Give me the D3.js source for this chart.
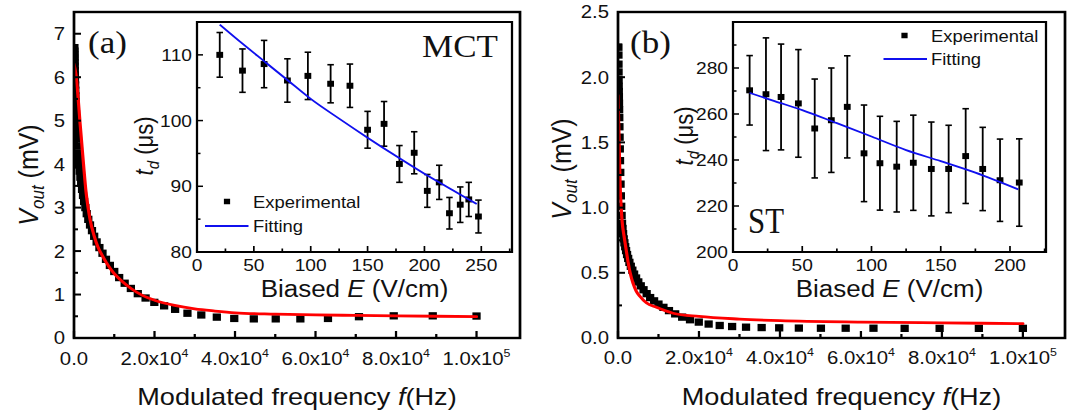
<!DOCTYPE html>
<html>
<head>
<meta charset="utf-8">
<script src="https://cdn.jsdelivr.net/npm/d3@7"></script>
<style>
  html, body { margin: 0; padding: 0; background: #fff; overflow: hidden; }
</style>
</head>
<body>
<svg id="chart"></svg>
<script>
// ---- Frequency response: modulated frequency (Hz) and output voltage (mV) ----
const freqHz = [100, 112, 126, 141, 158, 178, 200, 224, 251, 282, 316, 355, 398, 447, 501, 562, 631, 708, 794, 891,
  1000, 1122, 1259, 1413, 1585, 1778, 1995, 2239, 2512, 2818, 3162, 3548, 3981, 4467, 5012, 5623, 6310, 7079, 7943, 8913,
  10000, 11220, 12589, 14125, 15849, 17783, 19953, 22387, 25119, 28184, 31623, 35481, 39811, 44668, 50119, 56234, 63096, 70795, 79433, 89125,
  100000];
const voutMCT = [6.68, 6.6, 6.52, 6.44, 6.35, 6.26, 6.16, 6.05, 5.94, 5.82, 5.7, 5.57, 5.44, 5.3, 5.16, 5.02, 4.88, 4.73, 4.58, 4.42,
  4.26, 4.12, 3.98, 3.84, 3.7, 3.56, 3.42, 3.28, 3.14, 3.0, 2.86, 2.73, 2.6, 2.47, 2.34, 2.21, 2.08, 1.95, 1.81, 1.67,
  1.53, 1.39, 1.26, 1.14, 1.02, 0.92, 0.82, 0.74, 0.66, 0.57, 0.53, 0.48, 0.45, 0.44, 0.44, 0.44, 0.45, 0.49, 0.51, 0.51,
  0.505];
const voutST = [2.23, 2.17, 2.1, 2.04, 1.98, 1.93, 1.89, 1.85, 1.8, 1.75, 1.69, 1.62, 1.54, 1.45, 1.36, 1.27, 1.18, 1.09, 1.01, 0.94,
  0.88, 0.84, 0.8, 0.76, 0.73, 0.7, 0.67, 0.64, 0.61, 0.58, 0.55, 0.52, 0.49, 0.46, 0.43, 0.4, 0.37, 0.34, 0.31, 0.285,
  0.26, 0.235, 0.21, 0.185, 0.16, 0.14, 0.122, 0.107, 0.096, 0.088, 0.083, 0.08, 0.078, 0.076, 0.075, 0.075, 0.075, 0.074, 0.074, 0.074,
  0.074];

// fitted response curves
const fitFreqMCT = [0, 500, 1000, 1500, 2000, 2500, 3000, 3500, 4000, 5000, 6000, 7000, 8000, 9000, 10000, 12000, 14000, 17000,
  20000, 25000, 30000, 35000, 40000, 50000, 60000, 70000, 80000, 90000, 100000];
const fitVoutMCT = [6.3, 6.05, 5.55, 4.95, 4.4, 3.85, 3.35, 3.0, 2.72, 2.35, 2.08, 1.9, 1.74, 1.6, 1.48, 1.3, 1.15, 0.98,
  0.87, 0.75, 0.67, 0.62, 0.58, 0.55, 0.53, 0.52, 0.51, 0.5, 0.49];
const fitFreqST = [0, 250, 500, 750, 1000, 1500, 2000, 2500, 3000, 3700, 4500, 5400, 7000, 9500, 13600, 20000, 30000, 40000, 60000, 80000, 100000];
const fitVoutST = [1.86, 1.55, 1.2, 1.02, 0.9, 0.78, 0.68, 0.58, 0.5, 0.42, 0.36, 0.32, 0.27, 0.235, 0.19, 0.165, 0.145, 0.133, 0.122, 0.116, 0.11];

// ---- Delay time t_d (us) versus biased field E (V/cm) ----
const fieldMCT = [20, 40, 59, 79.5, 97.5, 117.5, 134.5, 150, 164.5, 178, 191, 202.5, 213, 222, 231.5, 239, 247.5];
const delayMCT = [110, 107.6, 108.6, 106.1, 106.8, 105.6, 105.3, 98.6, 99.5, 93.4, 95.1, 89.3, 90.6, 85.9, 87.2, 88.0, 85.4];
const delayErrMCT = [3.4, 3.3, 3.6, 3.3, 3.6, 2.9, 3.3, 2.8, 3.4, 2.8, 3.2, 2.5, 2.6, 2.4, 2.7, 2.6, 2.5];
const fitFieldMCT = [20, 40, 60, 80, 100, 125, 150, 175, 200, 225, 246];
const fitDelayMCT = [114.6, 111.7, 108.9, 106.1, 103.3, 100.3, 97.4, 94.6, 91.9, 89.4, 87.3];

const fieldST = [12, 23.8, 34.7, 47.2, 59, 71, 82.5, 94.6, 106.1, 118.2, 130.2, 143.2, 155.7, 168, 180.3, 192.8, 206.7];
const delayST = [270.3, 268.6, 267.4, 264.6, 253.7, 257.3, 263.1, 242.9, 238.6, 237.1, 238.8, 236.1, 236.1, 241.7, 236.1, 231.2, 230.2];
const delayErrST = [15.1, 24.5, 23, 23.4, 21.5, 22.7, 22.2, 21, 20.4, 19.7, 20.7, 20.4, 19, 20.6, 18.1, 17.9, 19];
const fitFieldST = [12, 30, 50, 75, 100, 125, 150, 175, 206];
const fitDelayST = [269.2, 265.6, 261.7, 256, 250.2, 244.3, 239.5, 234.5, 227.2];

// ---- Tick labels ----
const freqTicks = [0, 20000, 40000, 60000, 80000, 100000];
const freqTickBase = ["0.0", "2.0x10", "4.0x10", "6.0x10", "8.0x10", "1.0x10"];
const freqTickExp = ["", "4", "4", "4", "4", "5"];
const voutTicksMCT = [0, 1, 2, 3, 4, 5, 6, 7];
const voutTicksST = [0, 0.5, 1.0, 1.5, 2.0, 2.5];
const fieldTicksMCT = [0, 50, 100, 150, 200, 250];
const delayTicksMCT = [80, 90, 100, 110];
const fieldTicksST = [0, 50, 100, 150, 200];
const delayTicksST = [200, 220, 240, 260, 280];

// ---- Layout ----
const W = 1077, H = 416;
const SX = 1.13;              // horizontal stretch of the whole figure
const X = v => v / SX;        // screen x -> drawing x
const SANS = '"Liberation Sans", Arial, Helvetica, sans-serif';
const SERIF = '"Liberation Serif", "Times New Roman", Times, serif';
const INK = '#111';

const svg = d3.select('#chart').attr('width', W).attr('height', H)
  .style('display', 'block').style('font-family', SANS);
const root = svg.append('g').attr('transform', `scale(${SX},1)`);

function ticksInward(g, x, y, box, xMajor, xMinor, yMajor, yMinor, majLen, minLen, sw) {
  const t = g.append('g').attr('stroke', '#000').attr('stroke-width', sw);
  yMajor.forEach(v => t.append('line').attr('x1', X(box.left)).attr('x2', X(box.left + majLen)).attr('y1', y(v)).attr('y2', y(v)));
  yMinor.forEach(v => t.append('line').attr('x1', X(box.left)).attr('x2', X(box.left + minLen)).attr('y1', y(v)).attr('y2', y(v)));
  xMajor.forEach(v => t.append('line').attr('x1', x(v)).attr('x2', x(v)).attr('y1', box.bottom).attr('y2', box.bottom - majLen));
  xMinor.forEach(v => t.append('line').attr('x1', x(v)).attr('x2', x(v)).attr('y1', box.bottom).attr('y2', box.bottom - minLen));
}

function mainPanel(cfg) {
  const box = cfg.box;
  const x = d3.scaleLinear().domain([0, cfg.xMax]).range([X(box.left), X(box.right)]);
  const y = d3.scaleLinear().domain([0, cfg.yMax]).range([box.bottom, box.top]);
  const g = root.append('g');

  const clipId = 'clip-' + cfg.key;
  g.append('clipPath').attr('id', clipId).append('rect')
    .attr('x', X(box.left)).attr('y', box.top)
    .attr('width', X(box.right) - X(box.left)).attr('height', box.bottom - box.top);

  const sq = 7.3;
  g.append('g').attr('clip-path', `url(#${clipId})`)
    .selectAll('rect').data(cfg.freq.map((f, i) => [f, cfg.vout[i]])).join('rect')
    .attr('x', d => x(d[0]) - sq / 2).attr('y', d => y(d[1]) - sq / 2)
    .attr('width', sq).attr('height', sq).attr('fill', '#000');

  g.append('path').attr('clip-path', `url(#${clipId})`)
    .datum(cfg.fitF.map((f, i) => [f, cfg.fitV[i]]))
    .attr('d', d3.line().x(d => x(d[0])).y(d => y(d[1])).curve(d3.curveMonotoneX))
    .attr('fill', 'none').attr('stroke', '#ff0000').attr('stroke-width', 2.8)
    .attr('stroke-linejoin', 'round').attr('stroke-linecap', 'round');

  const xMinor = [10000, 30000, 50000, 70000, 90000];
  ticksInward(g, x, y, box, freqTicks, xMinor, cfg.yTicks, cfg.yMinor, 7, 4, 2);

  g.append('rect').attr('x', X(box.left)).attr('y', box.top)
    .attr('width', X(box.right) - X(box.left)).attr('height', box.bottom - box.top)
    .attr('fill', 'none').attr('stroke', '#000').attr('stroke-width', 2.4);

  // y tick labels
  g.append('g').selectAll('text').data(cfg.yTicks).join('text')
    .attr('x', X(box.left - 9)).attr('y', d => y(d)).attr('dy', '0.36em')
    .attr('text-anchor', 'end').attr('font-size', 18).attr('fill', INK)
    .text(cfg.yFmt);

  // x tick labels with powers of ten
  const xl = g.append('g').selectAll('text').data(freqTicks).join('text')
    .attr('x', d => x(d)).attr('y', cfg.xLabelY)
    .attr('text-anchor', 'middle').attr('font-size', 18).attr('fill', INK);
  xl.append('tspan').text((d, i) => freqTickBase[i]);
  xl.append('tspan').attr('font-size', 11).attr('dy', -8).text((d, i) => freqTickExp[i]);

  // axis titles
  const xt = g.append('text').attr('x', X((box.left + box.right) / 2)).attr('y', 405)
    .attr('text-anchor', 'middle').attr('font-size', 24).attr('fill', INK);
  xt.append('tspan').text('Modulated frequency ');
  xt.append('tspan').attr('font-style', 'italic').text('f');
  xt.append('tspan').text('(Hz)');

  const yt = g.append('text')
    .attr('transform', `translate(${X(cfg.yTitleX)},${cfg.yTitleMid}) rotate(-90)`)
    .attr('text-anchor', 'middle').attr('font-size', 25).attr('fill', INK);
  yt.append('tspan').attr('font-style', 'italic').text('V');
  yt.append('tspan').attr('font-style', 'italic').attr('font-size', 17).attr('dy', 5).text('out');
  yt.append('tspan').attr('dy', -5).text(' (mV)');

  g.append('text').attr('x', X(cfg.tagX)).attr('y', 53)
    .attr('font-family', SERIF).attr('font-size', 31).attr('fill', INK).text(cfg.tag);
}

function insetPanel(cfg) {
  const box = cfg.box;
  const x = d3.scaleLinear().domain([0, cfg.xMax]).range([X(box.left), X(box.right)]);
  const y = d3.scaleLinear().domain(cfg.yDomain).range([box.bottom, box.top]);
  const g = root.append('g');

  g.append('rect').attr('x', X(box.left)).attr('y', box.top)
    .attr('width', X(box.right) - X(box.left)).attr('height', box.bottom - box.top)
    .attr('fill', '#fff');

  const pts = cfg.field.map((e, i) => ({ e, t: cfg.delay[i], err: cfg.err[i] }));
  const cap = X(6.5);
  const eb = g.append('g').attr('stroke', '#000').attr('stroke-width', 1.6);
  pts.forEach(p => {
    const cx = x(p.e), y1 = y(p.t + p.err), y0 = y(p.t - p.err);
    eb.append('line').attr('x1', cx).attr('x2', cx).attr('y1', y1).attr('y2', y0);
    eb.append('line').attr('x1', cx - cap / 2).attr('x2', cx + cap / 2).attr('y1', y1).attr('y2', y1);
    eb.append('line').attr('x1', cx - cap / 2).attr('x2', cx + cap / 2).attr('y1', y0).attr('y2', y0);
  });
  const sq = 6;
  g.append('g').selectAll('rect').data(pts).join('rect')
    .attr('x', d => x(d.e) - sq / 2).attr('y', d => y(d.t) - sq / 2)
    .attr('width', sq).attr('height', sq).attr('fill', '#000');

  g.append('path').datum(cfg.fitE.map((e, i) => [e, cfg.fitT[i]]))
    .attr('d', d3.line().x(d => x(d[0])).y(d => y(d[1])).curve(d3.curveMonotoneX))
    .attr('fill', 'none').attr('stroke', '#1010ee').attr('stroke-width', 1.8);

  ticksInward(g, x, y, box, cfg.xTicks, cfg.xMinor, cfg.yTicks, cfg.yMinor, 6, 3.5, 1.5);

  g.append('rect').attr('x', X(box.left)).attr('y', box.top)
    .attr('width', X(box.right) - X(box.left)).attr('height', box.bottom - box.top)
    .attr('fill', 'none').attr('stroke', '#000').attr('stroke-width', 2);

  g.append('g').selectAll('text').data(cfg.yTicks).join('text')
    .attr('x', X(box.left - 5)).attr('y', d => y(d)).attr('dy', '0.36em')
    .attr('text-anchor', 'end').attr('font-size', 17).attr('fill', INK).text(d => d);
  g.append('g').selectAll('text').data(cfg.xTicks).join('text')
    .attr('x', d => x(d)).attr('y', 271)
    .attr('text-anchor', 'middle').attr('font-size', 17).attr('fill', INK).text(d => d);

  const xt = g.append('text').attr('x', X((box.left + box.right) / 2)).attr('y', 297)
    .attr('text-anchor', 'middle').attr('font-size', 23).attr('fill', INK);
  xt.append('tspan').text('Biased ');
  xt.append('tspan').attr('font-style', 'italic').text('E');
  xt.append('tspan').text(' (V/cm)');

  const yt = g.append('text')
    .attr('transform', `translate(${X(cfg.yTitleX)},${cfg.yTitleMid}) rotate(-90)`)
    .attr('text-anchor', 'middle').attr('font-size', 22).attr('fill', INK);
  yt.append('tspan').attr('font-style', 'italic').text('t');
  yt.append('tspan').attr('font-style', 'italic').attr('font-size', 15).attr('dy', 5).text('d');
  yt.append('tspan').attr('dy', -5).text(' (\u03bcs)');

  // legend
  const L = cfg.legend;
  g.append('rect').attr('x', X(L.sqX) - 2.75).attr('y', L.sqY - 2.75).attr('width', 5.5).attr('height', 5.5).attr('fill', '#000');
  g.append('text').attr('x', X(L.textX)).attr('y', L.sqY + 6.3).attr('font-size', 16.3).attr('fill', INK).text('Experimental');
  g.append('line').attr('x1', X(L.lineX0)).attr('x2', X(L.lineX1)).attr('y1', L.lineY).attr('y2', L.lineY)
    .attr('stroke', '#1010ee').attr('stroke-width', 1.8);
  g.append('text').attr('x', X(L.textX)).attr('y', L.lineY + 5.7).attr('font-size', 16.3).attr('fill', INK).text('Fitting');

  const lab = g.append('text').attr('x', X(cfg.label.x)).attr('y', cfg.label.y).attr('text-anchor', cfg.label.anchor)
    .attr('font-family', SERIF).attr('font-size', cfg.label.size).attr('fill', INK).text(cfg.label.text);
  if (cfg.label.width) {
    lab.attr('textLength', X(cfg.label.width)).attr('lengthAdjust', 'spacingAndGlyphs');
  }
}

mainPanel({
  key: 'a', tag: '(a)', tagX: 88,
  box: { left: 74, right: 520, top: 12, bottom: 338 },
  xMax: 110800, yMax: 7.5,
  freq: freqHz, vout: voutMCT, fitF: fitFreqMCT, fitV: fitVoutMCT,
  yTicks: voutTicksMCT, yMinor: [0.5, 1.5, 2.5, 3.5, 4.5, 5.5, 6.5],
  yFmt: d => d, xLabelY: 365, yTitleX: 38, yTitleMid: 175
});
mainPanel({
  key: 'b', tag: '(b)', tagX: 630,
  box: { left: 618, right: 1065, top: 12, bottom: 338 },
  xMax: 110400, yMax: 2.5,
  freq: freqHz, vout: voutST, fitF: fitFreqST, fitV: fitVoutST,
  yTicks: voutTicksST, yMinor: [0.25, 0.75, 1.25, 1.75, 2.25],
  yFmt: d3.format('.1f'), xLabelY: 364, yTitleX: 571, yTitleMid: 169
});

insetPanel({
  box: { left: 197, right: 512, top: 22, bottom: 252 },
  xMax: 277, yDomain: [80, 115],
  field: fieldMCT, delay: delayMCT, err: delayErrMCT, fitE: fitFieldMCT, fitT: fitDelayMCT,
  xTicks: fieldTicksMCT, xMinor: [25, 75, 125, 175, 225, 275],
  yTicks: delayTicksMCT, yMinor: [85, 95, 105],
  yTitleX: 153, yTitleMid: 146,
  legend: { sqX: 227, sqY: 201.5, textX: 253, lineX0: 205, lineX1: 248.5, lineY: 226 },
  label: { text: 'MCT', x: 498, y: 57.5, anchor: 'end', size: 31 }
});
insetPanel({
  box: { left: 733, right: 1046, top: 22, bottom: 252 },
  xMax: 226, yDomain: [200, 300],
  field: fieldST, delay: delayST, err: delayErrST, fitE: fitFieldST, fitT: fitDelayST,
  xTicks: fieldTicksST, xMinor: [25, 75, 125, 175, 225],
  yTicks: delayTicksST, yMinor: [210, 230, 250, 270, 290],
  yTitleX: 693, yTitleMid: 136,
  legend: { sqX: 904.5, sqY: 35.5, textX: 931, lineX0: 883.5, lineX1: 927, lineY: 59 },
  label: { text: 'ST', x: 748, y: 233, anchor: 'start', size: 36, width: 36 }
});
</script>
</body>
</html>
